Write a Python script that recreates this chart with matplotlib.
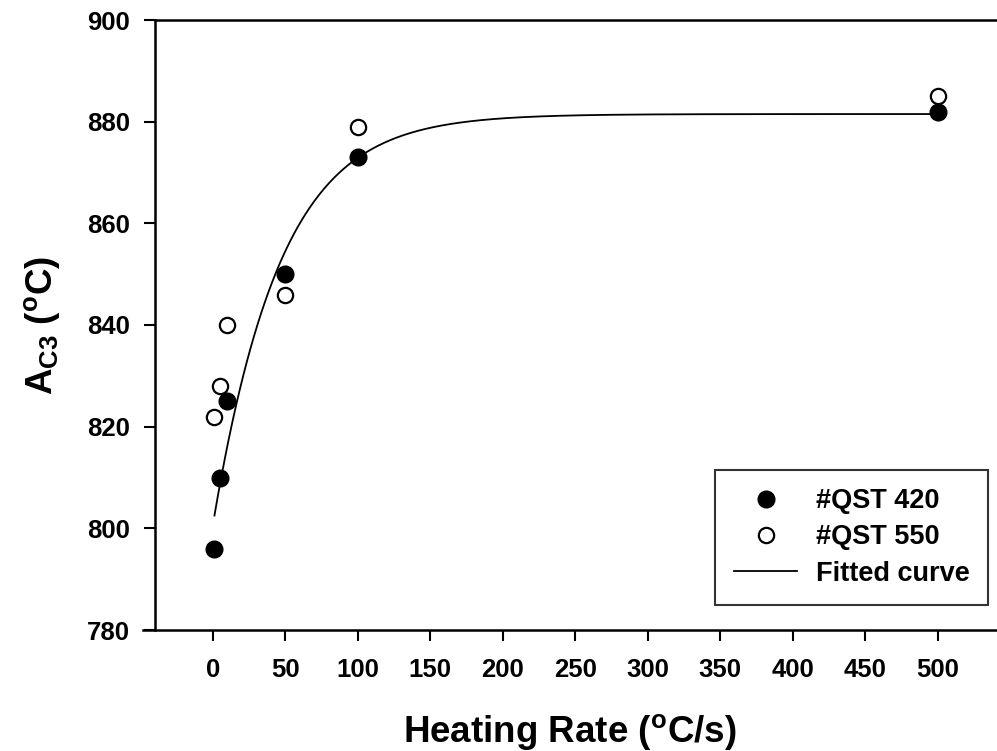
import matplotlib
matplotlib.use('Agg')
import matplotlib.pyplot as plt
import numpy as np

# heating rate (C/s) and measured Ac3 (C)
heating_rate = [1, 5, 10, 50, 100, 500]
qst420 = [796, 810, 825, 850, 873, 882]
qst550 = [822, 828, 840, 846, 879, 885]

# fitted sigmoid y = a / (1 + exp(-(x - x0) / b))
fit_a, fit_x0, fit_b = 881.5, -98.7, 43.0

x_ticks = [0, 50, 100, 150, 200, 250, 300, 350, 400, 450, 500]
y_ticks = [780, 800, 820, 840, 860, 880, 900]

plt.rcParams['font.family'] = ['Liberation Sans', 'DejaVu Sans']
plt.rcParams['font.weight'] = 'bold'
plt.rcParams['mathtext.fontset'] = 'custom'
plt.rcParams['mathtext.rm'] = 'Liberation Sans:bold'
plt.rcParams['mathtext.it'] = 'Liberation Sans:bold'
plt.rcParams['mathtext.bf'] = 'Liberation Sans:bold'

fig = plt.figure(figsize=(9.97, 7.51), dpi=100)
ax = fig.add_axes([143 / 997, 1 - 630 / 751, 1 - 143 / 997, 610 / 751])

xc = np.linspace(heating_rate[0], heating_rate[-1], 600)
yc = fit_a / (1 + np.exp(-(xc - fit_x0) / fit_b))
ax.plot(xc, yc, color='black', lw=1.3, label='Fitted curve', zorder=2)

ax.plot(heating_rate, qst420, 'o', color='black', ms=12, label='#QST 420', zorder=3)
ax.plot(heating_rate, qst550, 'o', mfc='white', mec='black', mew=1.6, ms=11,
        label='#QST 550', zorder=3)

ax.set_xlim(-48.3, 541)
ax.set_ylim(780, 900)
ax.spines['left'].set_position(('data', -40))
ax.spines['right'].set_visible(False)
ax.spines['top'].set_bounds(-40, 541)
for s in ['left', 'bottom', 'top']:
    ax.spines[s].set_linewidth(1.8)

ax.set_xticks(x_ticks)
ax.set_yticks(y_ticks)
ax.tick_params(direction='out', length=8, width=1.5, labelsize=18.5)
ax.tick_params(axis='x', pad=12)
ax.tick_params(axis='y', pad=10)

ax.set_xlabel(r'Heating Rate ($^{o}$C/s)', fontsize=26.5, fontweight='bold', labelpad=22)
ax.set_ylabel(r'A$_{C3}$ ($^{o}$C)', fontsize=26.5, fontweight='bold', labelpad=18)

handles, labels = ax.get_legend_handles_labels()
order = [1, 2, 0]
leg = ax.legend([handles[i] for i in order], [labels[i] for i in order],
                loc='lower right', bbox_to_anchor=((988 - 143) / (997 - 143), (630 - 605) / 610),
                fontsize=19.5, frameon=True, fancybox=False, handlelength=2.35,
                borderpad=0.68, labelspacing=0.38, handletextpad=0.68, borderaxespad=0)
leg.get_frame().set_edgecolor('black')
leg.get_frame().set_linewidth(1.5)

fig.savefig('out.png', dpi=100)
